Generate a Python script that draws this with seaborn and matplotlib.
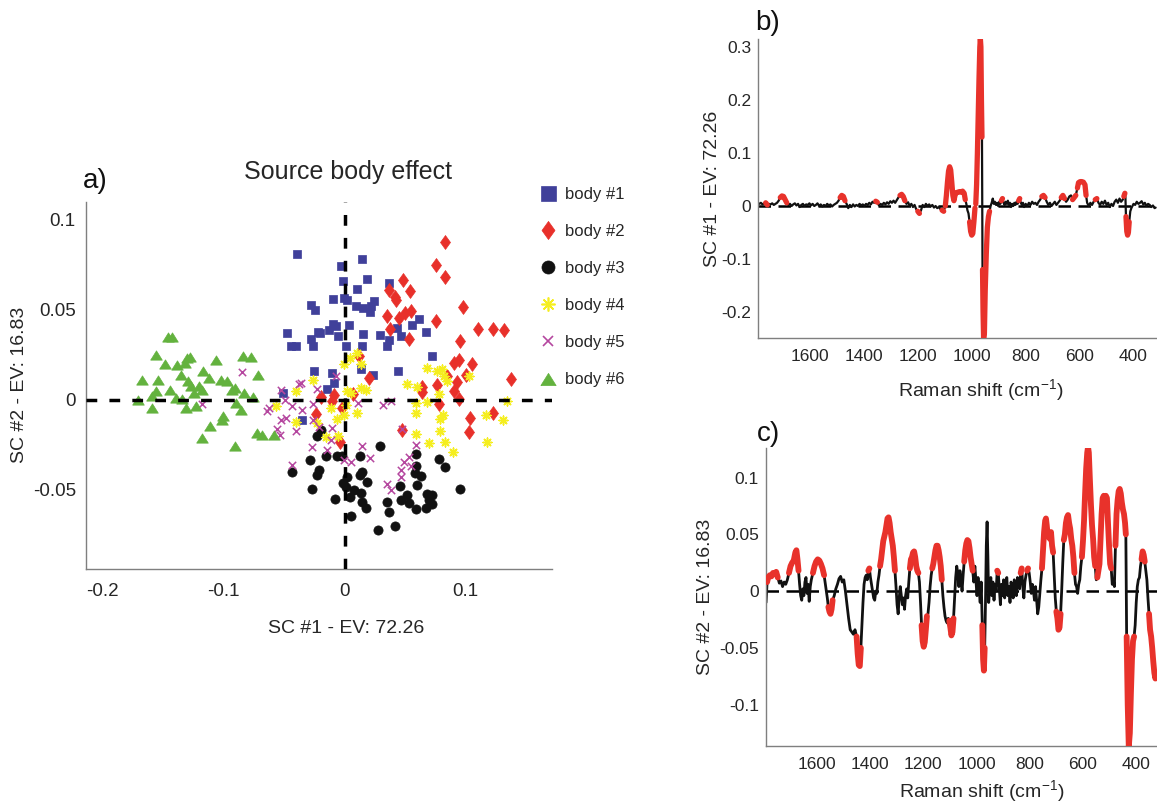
import numpy as np
import pandas as pd
import matplotlib
matplotlib.use("Agg")
import matplotlib.pyplot as plt
import seaborn as sns
from matplotlib.lines import Line2D

sns.set_theme(style="white")
plt.rcParams['font.family'] = ['Liberation Sans', 'DejaVu Sans']
plt.rcParams['mathtext.fontset'] = 'custom'
plt.rcParams['mathtext.rm'] = 'Liberation Sans'
plt.rcParams['mathtext.it'] = 'Liberation Sans:italic'
plt.rcParams['axes.unicode_minus'] = False

# ---------------- panel a: scores ----------------
labels = ["body #1", "body #2", "body #3", "body #4", "body #5", "body #6"]
colors = ["#40409a", "#e8302a", "#111111", "#f5ee1f", "#b5479f", "#63b23e"]

body1_x = [-0.0396, -0.0275, -0.0248, -0.0473, -0.0220, -0.0446, -0.0404, -0.0275, -0.0262, 0.0140,
           -0.0031, -0.0014, 0.0187, 0.0099, 0.0366, -0.0093, -0.0006, 0.0022, 0.0091, 0.0154,
           0.0242, 0.0215, 0.0209, 0.0613, 0.0559, -0.0097, -0.0074, -0.0130, -0.0206, -0.0055,
           0.0035, 0.0151, 0.0289, 0.0435, 0.0462, 0.0674, 0.0366, 0.0347, 0.0146, 0.0008,
           0.0724, -0.0253, -0.0101, -0.0088, -0.0149, 0.0138, 0.0237, 0.0440, -0.0349, -0.0506]
body1_y = [0.0808, 0.0526, 0.0498, 0.0369, 0.0373, 0.0299, 0.0295, 0.0336, 0.0299, 0.0781,
           0.0738, 0.0655, 0.0668, 0.0613, 0.0646, 0.0559, 0.0563, 0.0550, 0.0517, 0.0508,
           0.0544, 0.0517, 0.0483, 0.0449, 0.0415, 0.0421, 0.0410, 0.0384, 0.0369, 0.0354,
           0.0411, 0.0364, 0.0360, 0.0397, 0.0350, 0.0373, 0.0328, 0.0295, 0.0299, 0.0295,
           0.0240, 0.0157, 0.0148, 0.0092, 0.0059, 0.0170, 0.0138, 0.0161, -0.0111, 0.0037]

body2_x = [0.0828, 0.0751, 0.0825, 0.0484, 0.0366, 0.0539, 0.0415, 0.0421, 0.0976, 0.0352,
           0.0495, 0.0545, 0.0448, 0.0751, 0.0374, 0.1103, 0.1227, 0.1318, 0.0531, 0.0949,
           0.0902, 0.0943, 0.1054, 0.1004, 0.0847, 0.1378, 0.0200, 0.0930, 0.0641, 0.0759,
           0.0641, 0.0902, 0.0943, 0.0778, -0.0088, 0.0072, -0.0192, -0.0101, -0.0019, -0.0239,
           0.1224, 0.1034, 0.1026, 0.0476, -0.0039, 0.0118]
body2_y = [0.0873, 0.0748, 0.0677, 0.0661, 0.0609, 0.0604, 0.0569, 0.0550, 0.0511, 0.0465,
           0.0480, 0.0489, 0.0452, 0.0434, 0.0391, 0.0391, 0.0391, 0.0388, 0.0338, 0.0323,
           0.0203, 0.0221, 0.0199, 0.0138, 0.0129, 0.0116, 0.0120, 0.0096, 0.0070, 0.0079,
           0.0040, 0.0046, 0.0004, -0.0024, 0.0028, 0.0032, 0.0015, -0.0009, -0.0046, -0.0078,
           -0.0074, -0.0101, -0.0179, -0.0170, -0.0236, 0.0240]

body3_x = [-0.0198, -0.0231, 0.0289, -0.0157, -0.0060, -0.0019, 0.0124, -0.0286, 0.0586, 0.0778,
           0.0828, 0.0586, 0.0578, 0.0633, -0.0212, -0.0225, 0.0146, 0.0124, 0.0017, 0.0187,
           -0.0011, 0.0008, 0.0077, 0.0132, 0.0044, -0.0267, 0.0456, 0.0594, 0.0949, -0.0083,
           0.0517, 0.0462, 0.0682, 0.0718, 0.0696, 0.0724, 0.0668, 0.0586, 0.0531, 0.0347,
           0.0146, 0.0173, 0.0366, 0.0050, 0.0413, 0.0278, -0.0437]
body3_y = [-0.0166, -0.0203, -0.0259, -0.0314, -0.0310, -0.0314, -0.0314, -0.0336, -0.0299, -0.0328,
           -0.0373, -0.0365, -0.0406, -0.0425, -0.0388, -0.0415, -0.0403, -0.0415, -0.0428, -0.0458,
           -0.0461, -0.0483, -0.0498, -0.0517, -0.0539, -0.0494, -0.0476, -0.0471, -0.0493, -0.0548,
           -0.0526, -0.0554, -0.0520, -0.0526, -0.0554, -0.0578, -0.0600, -0.0605, -0.0572, -0.0566,
           -0.0569, -0.0600, -0.0624, -0.0646, -0.0698, -0.0724, -0.0400]

body4_x = [0.0105, -0.0006, 0.0041, 0.0132, 0.0682, 0.0765, 0.0806, 0.0819, 0.0847, 0.1026,
           0.0512, 0.0600, -0.0258, 0.0132, 0.0173, 0.0022, 0.0050, 0.0778, 0.0682, 0.0586,
           0.1342, -0.0116, 0.0008, -0.0006, 0.0105, 0.0586, 0.0814, 0.0786, 0.1169, 0.1306,
           -0.0066, -0.0225, 0.0786, 0.0586, -0.0157, -0.0055, 0.0696, 0.0833, 0.0894, 0.1177,
           -0.0404, -0.0569, -0.0404]
body4_y = [0.0259, 0.0199, 0.0231, 0.0199, 0.0176, 0.0157, 0.0170, 0.0129, 0.0101, 0.0129,
           0.0089, 0.0070, 0.0107, 0.0065, 0.0055, 0.0046, 0.0037, 0.0032, -0.0015, -0.0018,
           -0.0009, -0.0046, -0.0028, -0.0083, -0.0074, -0.0074, -0.0083, -0.0107, -0.0083, -0.0111,
           -0.0107, -0.0129, -0.0172, -0.0188, -0.0207, -0.0203, -0.0240, -0.0236, -0.0292, -0.0236,
           0.0050, -0.0037, -0.0126]

body5_x = [-0.0074, -0.0231, -0.0363, -0.0258, -0.0349, 0.0110, 0.0319, 0.0380, -0.0258, -0.0101,
           -0.0212, 0.0476, -0.0110, -0.0267, -0.0143, 0.0146, 0.0586, 0.0209, -0.0006, 0.0050,
           0.0531, 0.0489, 0.0545, 0.0462, 0.0468, 0.0347, 0.0380, -0.0844, -0.0377, -0.0528,
           -0.0495, -0.0432, -0.0625, -0.0638, -0.0528, -0.0487, -0.0555, -0.0534, -0.0404, -0.0432,
           -0.1174]
body5_y = [0.0129, 0.0059, 0.0092, -0.0022, -0.0055, -0.0018, -0.0028, -0.0006, -0.0111, -0.0157,
           -0.0151, -0.0162, -0.0221, -0.0262, -0.0277, -0.0255, -0.0249, -0.0323, -0.0332, -0.0347,
           -0.0317, -0.0347, -0.0365, -0.0388, -0.0428, -0.0465, -0.0498, 0.0153, 0.0087, 0.0055,
           0.0000, -0.0037, -0.0046, -0.0065, -0.0111, -0.0101, -0.0162, -0.0194, -0.0176, -0.0360,
           -0.0022]

body6_x = [-0.1458, -0.1422, -0.1559, -0.1304, -0.1276, -0.1485, -0.1386, -0.1320, -0.1059, -0.0839,
           -0.0776, -0.1166, -0.1353, -0.1677, -0.1540, -0.1120, -0.1017, -0.0715, -0.0968, -0.1293,
           -0.1271, -0.1202, -0.1174, -0.0908, -0.0927, -0.1559, -0.1441, -0.1243, -0.0831, -0.1587,
           -0.1705, -0.1394, -0.1339, -0.0753, -0.1587, -0.1312, -0.1229, -0.0899, -0.0858, -0.1001,
           -0.1009, -0.1114, -0.0720, -0.0679, -0.0583, -0.1180, -0.0908]
body6_y = [0.0347, 0.0347, 0.0249, 0.0231, 0.0236, 0.0198, 0.0194, 0.0203, 0.0221, 0.0240,
           0.0236, 0.0157, 0.0138, 0.0107, 0.0111, 0.0120, 0.0107, 0.0135, 0.0101, 0.0101,
           0.0074, 0.0074, 0.0055, 0.0065, 0.0055, 0.0046, 0.0051, 0.0037, 0.0037, 0.0018,
           0.0000, 0.0009, 0.0004, 0.0015, -0.0046, -0.0046, -0.0037, -0.0018, -0.0055, -0.0089,
           -0.0115, -0.0144, -0.0184, -0.0194, -0.0194, -0.0212, -0.0255]

a_xticks = [-0.2, -0.1, 0, 0.1]
a_xticklabels = ["-0.2", "-0.1", "0", "0.1"]
a_yticks = [-0.05, 0, 0.05, 0.1]
a_yticklabels = ["-0.05", "0", "0.05", "0.1"]

# ---------------- panel b: loading SC #1 ----------------
b_shift = [1788, 1782, 1776, 1770, 1764, 1758, 1752, 1746, 1740, 1734, 1728, 1722, 1716, 1710, 1704,
           1698, 1692, 1686, 1680, 1674, 1668, 1662, 1656, 1650, 1644, 1638, 1632, 1626, 1620, 1614,
           1608, 1602, 1596, 1590, 1584, 1578, 1572, 1566, 1560, 1554, 1548, 1542, 1536, 1530, 1524,
           1518, 1512, 1506, 1500, 1494, 1488, 1482, 1476, 1470, 1464, 1458, 1452, 1446, 1440, 1434,
           1428, 1422, 1416, 1410, 1404, 1398, 1392, 1386, 1380, 1374, 1368, 1362, 1356, 1350, 1344,
           1338, 1332, 1326, 1320, 1314, 1308, 1302, 1296, 1290, 1284, 1278, 1272, 1266, 1260, 1254,
           1248, 1242, 1236, 1230, 1224, 1218, 1212, 1206, 1200, 1194, 1188, 1182, 1176, 1170, 1164,
           1158, 1152, 1146, 1140, 1134, 1128, 1122, 1116, 1110, 1104, 1098, 1094, 1090, 1086, 1082,
           1078, 1074, 1070, 1066, 1062, 1058, 1052, 1046, 1040, 1034, 1028, 1024, 1020, 1016, 1012,
           1008, 1004, 1000, 996, 992, 988, 985, 982, 979, 976, 973, 970, 968, 966, 964,
           962, 960, 958, 956, 953, 950, 946, 942, 938, 934, 930, 926, 922, 918, 914,
           910, 906, 902, 898, 894, 890, 886, 882, 878, 874, 870, 866, 862, 858, 854,
           850, 846, 842, 838, 834, 830, 826, 822, 818, 814, 810, 806, 800, 794, 788,
           782, 776, 770, 764, 758, 752, 746, 740, 734, 728, 722, 716, 710, 704, 698,
           692, 686, 680, 674, 668, 662, 656, 650, 644, 638, 632, 626, 620, 614, 608,
           604, 598, 592, 586, 580, 576, 572, 566, 560, 554, 548, 542, 536, 530, 524,
           518, 512, 506, 500, 494, 488, 482, 476, 470, 464, 458, 452, 446, 440, 436,
           432, 430, 428, 425, 422, 419, 416, 412, 408, 404, 400, 394, 388, 382, 376,
           370, 364, 358, 352, 346, 340, 334, 328, 322, 318]
b_sc1 = [0.004, 0.006, 0.003, 0.005, 0.006, 0.002, 0.004, 0.003, 0.005, 0.002, 0.004, 0.006, 0.010, 0.016, 0.019,
         0.018, 0.012, 0.006, 0.002, 0.004, 0.000, 0.003, 0.005, 0.001, 0.004, -0.002, 0.002, 0.004, 0.000, 0.003,
         0.002, 0.005, 0.001, 0.004, 0.000, 0.002, 0.005, 0.000, 0.003, -0.001, 0.002, 0.000, 0.004, 0.001, 0.003,
         -0.001, 0.002, 0.004, 0.006, 0.010, 0.016, 0.020, 0.018, 0.010, 0.004, -0.004, 0.002, -0.002, 0.003, -0.001,
         0.002, 0.000, 0.004, 0.001, 0.003, 0.000, 0.004, 0.002, 0.006, 0.003, 0.008, 0.006, 0.009, 0.007, 0.001,
         0.004, 0.002, 0.006, 0.003, 0.007, 0.004, 0.009, 0.006, 0.010, 0.006, 0.011, 0.016, 0.020, 0.022, 0.018,
         0.010, 0.004, 0.007, 0.000, 0.004, -0.002, 0.002, -0.006, -0.010, -0.014, -0.008, 0.002, -0.002, 0.004, 0.000,
         0.003, -0.001, 0.002, -0.003, 0.000, -0.004, -0.002, -0.006, -0.008, -0.010, 0.000, 0.020, 0.045, 0.066, 0.074,
         0.068, 0.045, 0.020, 0.010, 0.020, 0.025, 0.026, 0.027, 0.026, 0.028, 0.024, 0.012, 0.004, -0.008, -0.014,
         -0.030, -0.048, -0.055, -0.052, -0.030, -0.004, 0.004, 0.040, 0.100, 0.170, 0.240, 0.300, 0.316, 0.300, 0.200,
         0.130, -0.120, -0.200, -0.250, -0.240, -0.160, -0.090, -0.040, -0.020, -0.010, 0.000, 0.006, 0.014, 0.004, 0.008,
         0.002, 0.006, 0.000, 0.008, 0.004, 0.010, 0.014, 0.006, 0.002, 0.008, 0.004, 0.010, 0.002, 0.006, -0.002,
         0.004, 0.000, 0.006, 0.002, 0.008, 0.004, 0.010, 0.014, 0.006, 0.002, 0.006, -0.002, 0.004, 0.000, 0.006,
         0.002, 0.008, 0.004, 0.006, 0.002, 0.008, 0.012, 0.018, 0.020, 0.016, 0.008, 0.002, 0.006, 0.000, 0.004,
         0.008, 0.002, 0.006, 0.010, 0.016, 0.020, 0.014, 0.008, 0.012, 0.018, 0.020, 0.012, 0.016, 0.020, 0.034,
         0.044, 0.046, 0.046, 0.045, 0.040, 0.020, 0.006, 0.000, 0.006, 0.002, 0.008, 0.012, 0.014, 0.006, 0.002,
         0.008, 0.004, 0.010, 0.002, 0.006, -0.002, 0.004, 0.000, 0.008, 0.012, 0.006, 0.014, 0.008, 0.012, 0.018,
         0.024, 0.016, -0.020, -0.048, -0.055, -0.050, -0.030, -0.010, -0.004, 0.000, 0.004, 0.002, 0.008, 0.004, 0.006,
         0.009, 0.003, 0.006, 0.000, 0.004, 0.002, -0.002, 0.001, -0.004, -0.003]
b_red_ranges = [(1766, 1758), (1710, 1686), (1488, 1470), (1356, 1350), (1266, 1248), (1200, 1194),
                (1110, 1104), (1098, 1024), (1008, 988), (985, 962), (960, 934), (890, 886),
                (826, 822), (740, 728), (668, 656), (626, 614), (608, 576), (542, 536),
                (436, 432), (428, 416)]
b_yticks = [-0.2, -0.1, 0, 0.1, 0.2, 0.3]
b_yticklabels = ["-0.2", "-0.1", "0", "0.1", "0.2", "0.3"]
shift_ticks = [1600, 1400, 1200, 1000, 800, 600, 400]

# ---------------- panel c: loading SC #2 ----------------
c_shift = [1790, 1786, 1782, 1776, 1770, 1764, 1758, 1752, 1746, 1740, 1734, 1728, 1722, 1716, 1710,
           1704, 1698, 1692, 1686, 1680, 1676, 1672, 1668, 1664, 1660, 1656, 1652, 1648, 1644, 1640,
           1636, 1632, 1628, 1624, 1620, 1614, 1608, 1602, 1596, 1590, 1584, 1578, 1572, 1566, 1560,
           1556, 1552, 1548, 1544, 1540, 1534, 1528, 1522, 1516, 1510, 1504, 1498, 1492, 1486, 1480,
           1474, 1468, 1462, 1456, 1450, 1446, 1442, 1438, 1434, 1430, 1426, 1422, 1418, 1414, 1410,
           1406, 1402, 1398, 1394, 1390, 1386, 1382, 1378, 1374, 1370, 1366, 1362, 1358, 1354, 1350,
           1346, 1342, 1338, 1334, 1330, 1326, 1322, 1318, 1314, 1310, 1306, 1302, 1298, 1294, 1290,
           1286, 1282, 1278, 1274, 1270, 1266, 1262, 1258, 1254, 1250, 1246, 1242, 1238, 1234, 1230,
           1226, 1222, 1218, 1214, 1210, 1206, 1202, 1198, 1194, 1190, 1186, 1182, 1178, 1174, 1170,
           1166, 1162, 1158, 1154, 1150, 1146, 1142, 1138, 1134, 1130, 1126, 1122, 1118, 1114, 1110,
           1106, 1102, 1098, 1094, 1090, 1086, 1082, 1078, 1074, 1070, 1066, 1062, 1058, 1054, 1050,
           1046, 1042, 1038, 1034, 1030, 1026, 1022, 1018, 1014, 1010, 1006, 1002, 998, 994, 990,
           986, 982, 978, 975, 972, 969, 966, 963, 960, 957, 954, 950, 946, 942, 938,
           934, 930, 926, 922, 918, 914, 910, 906, 902, 898, 894, 890, 886, 882, 878,
           874, 870, 866, 862, 858, 854, 850, 846, 842, 838, 834, 830, 826, 822, 818,
           814, 810, 806, 802, 798, 794, 790, 786, 782, 778, 774, 770, 766, 762, 758,
           754, 750, 746, 742, 739, 736, 732, 728, 724, 720, 716, 712, 708, 704, 700,
           696, 692, 688, 684, 680, 676, 672, 668, 664, 660, 656, 652, 648, 644, 640,
           636, 632, 628, 624, 620, 616, 612, 608, 604, 600, 596, 592, 588, 584, 581,
           578, 574, 570, 566, 562, 558, 554, 550, 546, 542, 538, 534, 530, 526, 522,
           518, 514, 510, 506, 502, 498, 494, 490, 486, 482, 478, 474, 470, 466, 462,
           458, 454, 450, 446, 442, 439, 436, 432, 428, 424, 420, 416, 412, 408, 404,
           400, 396, 392, 388, 384, 380, 376, 372, 368, 364, 360, 356, 352, 348, 344,
           340, 336, 332, 328, 325]
c_sc2 = [-0.010, 0.008, 0.012, 0.014, 0.013, 0.016, 0.015, 0.017, 0.012, 0.007, 0.009, 0.004, 0.008, 0.006, 0.010,
         0.016, 0.022, 0.025, 0.027, 0.034, 0.036, 0.028, 0.018, 0.006, -0.004, -0.008, 0.002, -0.004, 0.008, 0.012,
         -0.002, 0.006, -0.009, 0.004, 0.010, 0.016, 0.022, 0.026, 0.028, 0.027, 0.024, 0.020, 0.014, 0.004, -0.006,
         -0.014, -0.018, -0.020, -0.016, -0.008, -0.004, 0.002, 0.006, 0.011, 0.013, 0.008, 0.010, 0.000, -0.012, -0.024,
         -0.034, -0.036, -0.038, -0.034, -0.040, -0.055, -0.065, -0.066, -0.050, -0.030, -0.010, 0.006, 0.012, 0.014, 0.010,
         0.018, 0.020, 0.012, 0.006, 0.000, -0.006, -0.008, 0.000, -0.002, 0.008, 0.014, 0.022, 0.028, 0.036, 0.044,
         0.048, 0.052, 0.058, 0.064, 0.065, 0.060, 0.052, 0.046, 0.040, 0.030, 0.018, 0.004, -0.012, -0.020, -0.006,
         0.004, -0.004, -0.012, -0.006, -0.016, -0.004, 0.002, -0.006, 0.008, 0.020, 0.028, 0.030, 0.034, 0.035, 0.030,
         0.022, 0.018, 0.016, 0.008, -0.010, -0.030, -0.044, -0.049, -0.045, -0.034, -0.022, -0.020, -0.010, 0.004, 0.014,
         0.020, 0.024, 0.030, 0.036, 0.040, 0.040, 0.036, 0.030, 0.022, 0.010, -0.004, -0.014, -0.022, -0.026, -0.028,
         -0.024, -0.026, -0.032, -0.039, -0.036, -0.024, -0.006, 0.012, 0.022, 0.016, 0.004, 0.018, 0.010, 0.000, 0.014,
         0.026, 0.036, 0.042, 0.045, 0.044, 0.038, 0.030, 0.024, 0.018, 0.008, 0.022, 0.010, -0.004, 0.012, 0.002,
         -0.010, 0.008, -0.030, -0.060, -0.070, -0.050, -0.010, 0.040, 0.061, 0.030, -0.010, 0.004, 0.012, -0.004, 0.008,
         -0.008, 0.006, 0.000, 0.018, 0.016, 0.002, -0.012, 0.006, -0.004, 0.010, -0.006, 0.006, 0.012, -0.004, 0.004,
         -0.010, 0.008, 0.002, -0.006, 0.010, 0.004, -0.004, 0.012, 0.008, 0.002, 0.016, 0.020, 0.004, -0.006, 0.008,
         0.014, 0.018, 0.020, 0.016, 0.008, -0.002, 0.006, 0.000, -0.008, 0.004, -0.008, -0.020, -0.014, -0.002, 0.010,
         0.020, 0.036, 0.052, 0.062, 0.064, 0.058, 0.048, 0.050, 0.046, 0.052, 0.040, 0.034, 0.014, -0.006, -0.018,
         -0.024, -0.034, -0.032, -0.020, 0.000, 0.024, 0.045, 0.050, 0.060, 0.065, 0.067, 0.060, 0.055, 0.046, 0.040,
         0.030, 0.016, 0.006, 0.004, -0.002, 0.006, 0.010, 0.022, 0.030, 0.044, 0.062, 0.086, 0.108, 0.122, 0.127,
         0.122, 0.098, 0.076, 0.058, 0.046, 0.030, 0.022, 0.010, 0.012, 0.018, 0.024, 0.046, 0.068, 0.082, 0.084,
         0.082, 0.084, 0.082, 0.060, 0.040, 0.024, 0.020, 0.006, 0.010, 0.004, 0.040, 0.068, 0.080, 0.088, 0.090,
         0.086, 0.078, 0.072, 0.068, 0.060, 0.050, -0.040, -0.100, -0.137, -0.125, -0.090, -0.060, -0.044, -0.040, -0.030,
         -0.010, 0.004, 0.010, 0.012, 0.022, 0.028, 0.035, 0.032, 0.026, 0.018, 0.010, -0.006, -0.020, -0.034, -0.040,
         -0.050, -0.062, -0.072, -0.077, -0.072]
c_red_ranges = [(1786, 1746), (1704, 1668), (1614, 1572), (1556, 1540), (1450, 1434), (1406, 1402),
                (1362, 1306), (1250, 1218), (1206, 1186), (1166, 1130), (1102, 1086), (1046, 1014),
                (978, 969), (922, 918), (834, 830), (810, 806), (754, 712), (700, 684),
                (672, 632), (604, 554), (546, 494), (478, 439), (436, 408), (380, 368), (352, 325)]
c_yticks = [-0.1, -0.05, 0, 0.05, 0.1]
c_yticklabels = ["-0.1", "-0.05", "0", "0.05", "0.1"]


def red_frame(shift, vals, ranges):
    rows = []
    for k, (hi, lo) in enumerate(ranges):
        for s, v in zip(shift, vals):
            if lo <= s <= hi:
                rows.append((k, s, v))
    return pd.DataFrame(rows, columns=["seg", "shift", "val"])


W, H = 1157, 802
fig = plt.figure(figsize=(W / 100, H / 100), dpi=100)

spine_col = "#7f7f7f"


def style_axes(ax, labelsize, xpad, ypad):
    for s in ["top", "right"]:
        ax.spines[s].set_visible(False)
    for s in ["left", "bottom"]:
        ax.spines[s].set_color(spine_col)
        ax.spines[s].set_linewidth(1.0)
    ax.tick_params(axis="both", direction="in", length=3.5, width=1, color=spine_col,
                   labelsize=labelsize, labelcolor="#262626")
    ax.tick_params(axis="x", pad=xpad)
    ax.tick_params(axis="y", pad=ypad)


def fig_rect(l, t, r, b):
    return [l / W, 1 - b / H, (r - l) / W, (b - t) / H]


# ---- panel a ----
axa = fig.add_axes(fig_rect(85.5, 201.7, 552.4, 569.0))
diamond = [(0, 1), (0.72, 0), (0, -1), (-0.72, 0), (0, 1)]
triangle = [(-1, -0.8), (1, -0.8), (0, 0.8), (-1, -0.8)]
markers = ["s", diamond, "o", (8, 2, 0), "x", triangle]
sizes = [34, 100, 44, 40, 28, 70]
legend_sizes = [10.8, 13.0, 9.4, 10.0, 6.8, 11.0]
xs_all = [body1_x, body2_x, body3_x, body4_x, body5_x, body6_x]
ys_all = [body1_y, body2_y, body3_y, body4_y, body5_y, body6_y]
filled = [True, True, True, False, False, True]

for lab, xs, ys, mk, col, sz, fl in zip(labels, xs_all, ys_all, markers, colors, sizes, filled):
    df = pd.DataFrame({"x": xs, "y": ys})
    if fl:
        sns.scatterplot(data=df, x="x", y="y", marker=mk, color=col, s=sz, edgecolor=col,
                        linewidth=0.5, ax=axa, legend=False, zorder=2)
    else:
        sns.scatterplot(data=df, x="x", y="y", marker=mk, color=col, s=sz,
                        linewidth=1.1, ax=axa, legend=False, zorder=2)

axa.axhline(0, color="black", lw=2.5, ls=(0, (3.1, 3.5)), zorder=3)
axa.axvline(0, color="black", lw=2.5, ls=(0, (3.1, 3.5)), zorder=3)
axa.set_xlim(-0.214, 0.1716)
axa.set_ylim(-0.0938, 0.1096)
axa.set_xticks(a_xticks)
axa.set_xticklabels(a_xticklabels)
axa.set_yticks(a_yticks)
axa.set_yticklabels(a_yticklabels)
style_axes(axa, 13.5, 10, 7)
axa.set_xlabel("SC #1 - EV: 72.26", fontsize=14, color="#262626")
axa.set_ylabel("SC #2 - EV: 16.83", fontsize=14, color="#262626")
axa.xaxis.set_label_coords((346 - 85.5) / 466.9, (569 - 620) / 367.3)
axa.yaxis.set_label_coords((28 - 85.5) / 466.9, 0.5)

fig.text(348 / W, 1 - 172 / H, "Source body effect", fontsize=18, ha="center", va="center",
         color="#262626")
fig.text(83 / W, 1 - 181 / H, "a)", fontsize=20, ha="left", va="center", color="#111111")

handles = []
for mk, col, ms, fl in zip(markers, colors, legend_sizes, filled):
    if fl:
        handles.append(Line2D([], [], ls="", marker=mk, markersize=ms, color=col,
                              markeredgecolor=col, markeredgewidth=0.5))
    else:
        handles.append(Line2D([], [], ls="", marker=mk, markersize=ms, color=col,
                              markeredgecolor=col, markeredgewidth=1.2))
fig.legend(handles, labels, loc="upper left", bbox_to_anchor=(540 / W, 1 - 186.5 / H),
           frameon=False, fontsize=12, handlelength=1.0, handletextpad=0.5,
           labelspacing=1.33, borderpad=0, borderaxespad=0, labelcolor="#262626")

# ---- panel b ----
axb = fig.add_axes(fig_rect(758.3, 39.3, 1156.5, 337.7))
axb.axhline(0, color="black", lw=1.8, ls=(0, (5, 3)), zorder=1)
sns.lineplot(x=b_shift, y=b_sc1, sort=False, estimator=None, errorbar=None, color="#111111",
             lw=1.6, ax=axb, zorder=2)
dfb = red_frame(b_shift, b_sc1, b_red_ranges)
sns.lineplot(data=dfb, x="shift", y="val", units="seg", estimator=None, errorbar=None, sort=False,
             color="#e8322b", lw=3.8, ax=axb, legend=False, zorder=3, solid_capstyle="round")
axb.set_xlim(1791.5, 314.8)
axb.set_ylim(-0.2485, 0.3145)
axb.set_xticks(shift_ticks)
axb.set_xticklabels([str(t) for t in shift_ticks])
axb.set_yticks(b_yticks)
axb.set_yticklabels(b_yticklabels)
style_axes(axb, 12.5, 8, 5)
axb.set_xlabel("Raman shift (cm$^{-1}$)", fontsize=14, color="#262626")
axb.set_ylabel("SC #1 - EV: 72.26", fontsize=14, color="#262626")
axb.xaxis.set_label_coords((981 - 758.3) / 398.2, (337.7 - 377) / 298.4)
axb.yaxis.set_label_coords((721 - 758.3) / 398.2, 0.5)
fig.text(755 / W, 1 - 23.5 / H, "b)", fontsize=20, ha="left", va="center", color="#111111")

# ---- panel c ----
axc = fig.add_axes(fig_rect(765.7, 448.3, 1156.5, 746.0))
axc.axhline(0, color="black", lw=1.8, ls=(0, (5, 3)), zorder=1)
sns.lineplot(x=c_shift, y=c_sc2, sort=False, estimator=None, errorbar=None, color="#111111",
             lw=2.0, ax=axc, zorder=2)
dfc = red_frame(c_shift, c_sc2, c_red_ranges)
sns.lineplot(data=dfc, x="shift", y="val", units="seg", estimator=None, errorbar=None, sort=False,
             color="#e8322b", lw=4.2, ax=axc, legend=False, zorder=3, solid_capstyle="round")
axc.set_xlim(1791.3, 323.9)
axc.set_ylim(-0.1364, 0.1258)
axc.set_xticks(shift_ticks)
axc.set_xticklabels([str(t) for t in shift_ticks])
axc.set_yticks(c_yticks)
axc.set_yticklabels(c_yticklabels)
style_axes(axc, 12.5, 8, 5)
axc.set_xlabel("Raman shift (cm$^{-1}$)", fontsize=14, color="#262626")
axc.set_ylabel("SC #2 - EV: 16.83", fontsize=14, color="#262626")
axc.xaxis.set_label_coords((982 - 765.7) / 390.8, (746 - 778) / 297.7)
axc.yaxis.set_label_coords((714 - 765.7) / 390.8, 0.5)
fig.text(757 / W, 1 - 434 / H, "c)", fontsize=20, ha="left", va="center", color="#111111")

fig.savefig("out.png", dpi=100)
